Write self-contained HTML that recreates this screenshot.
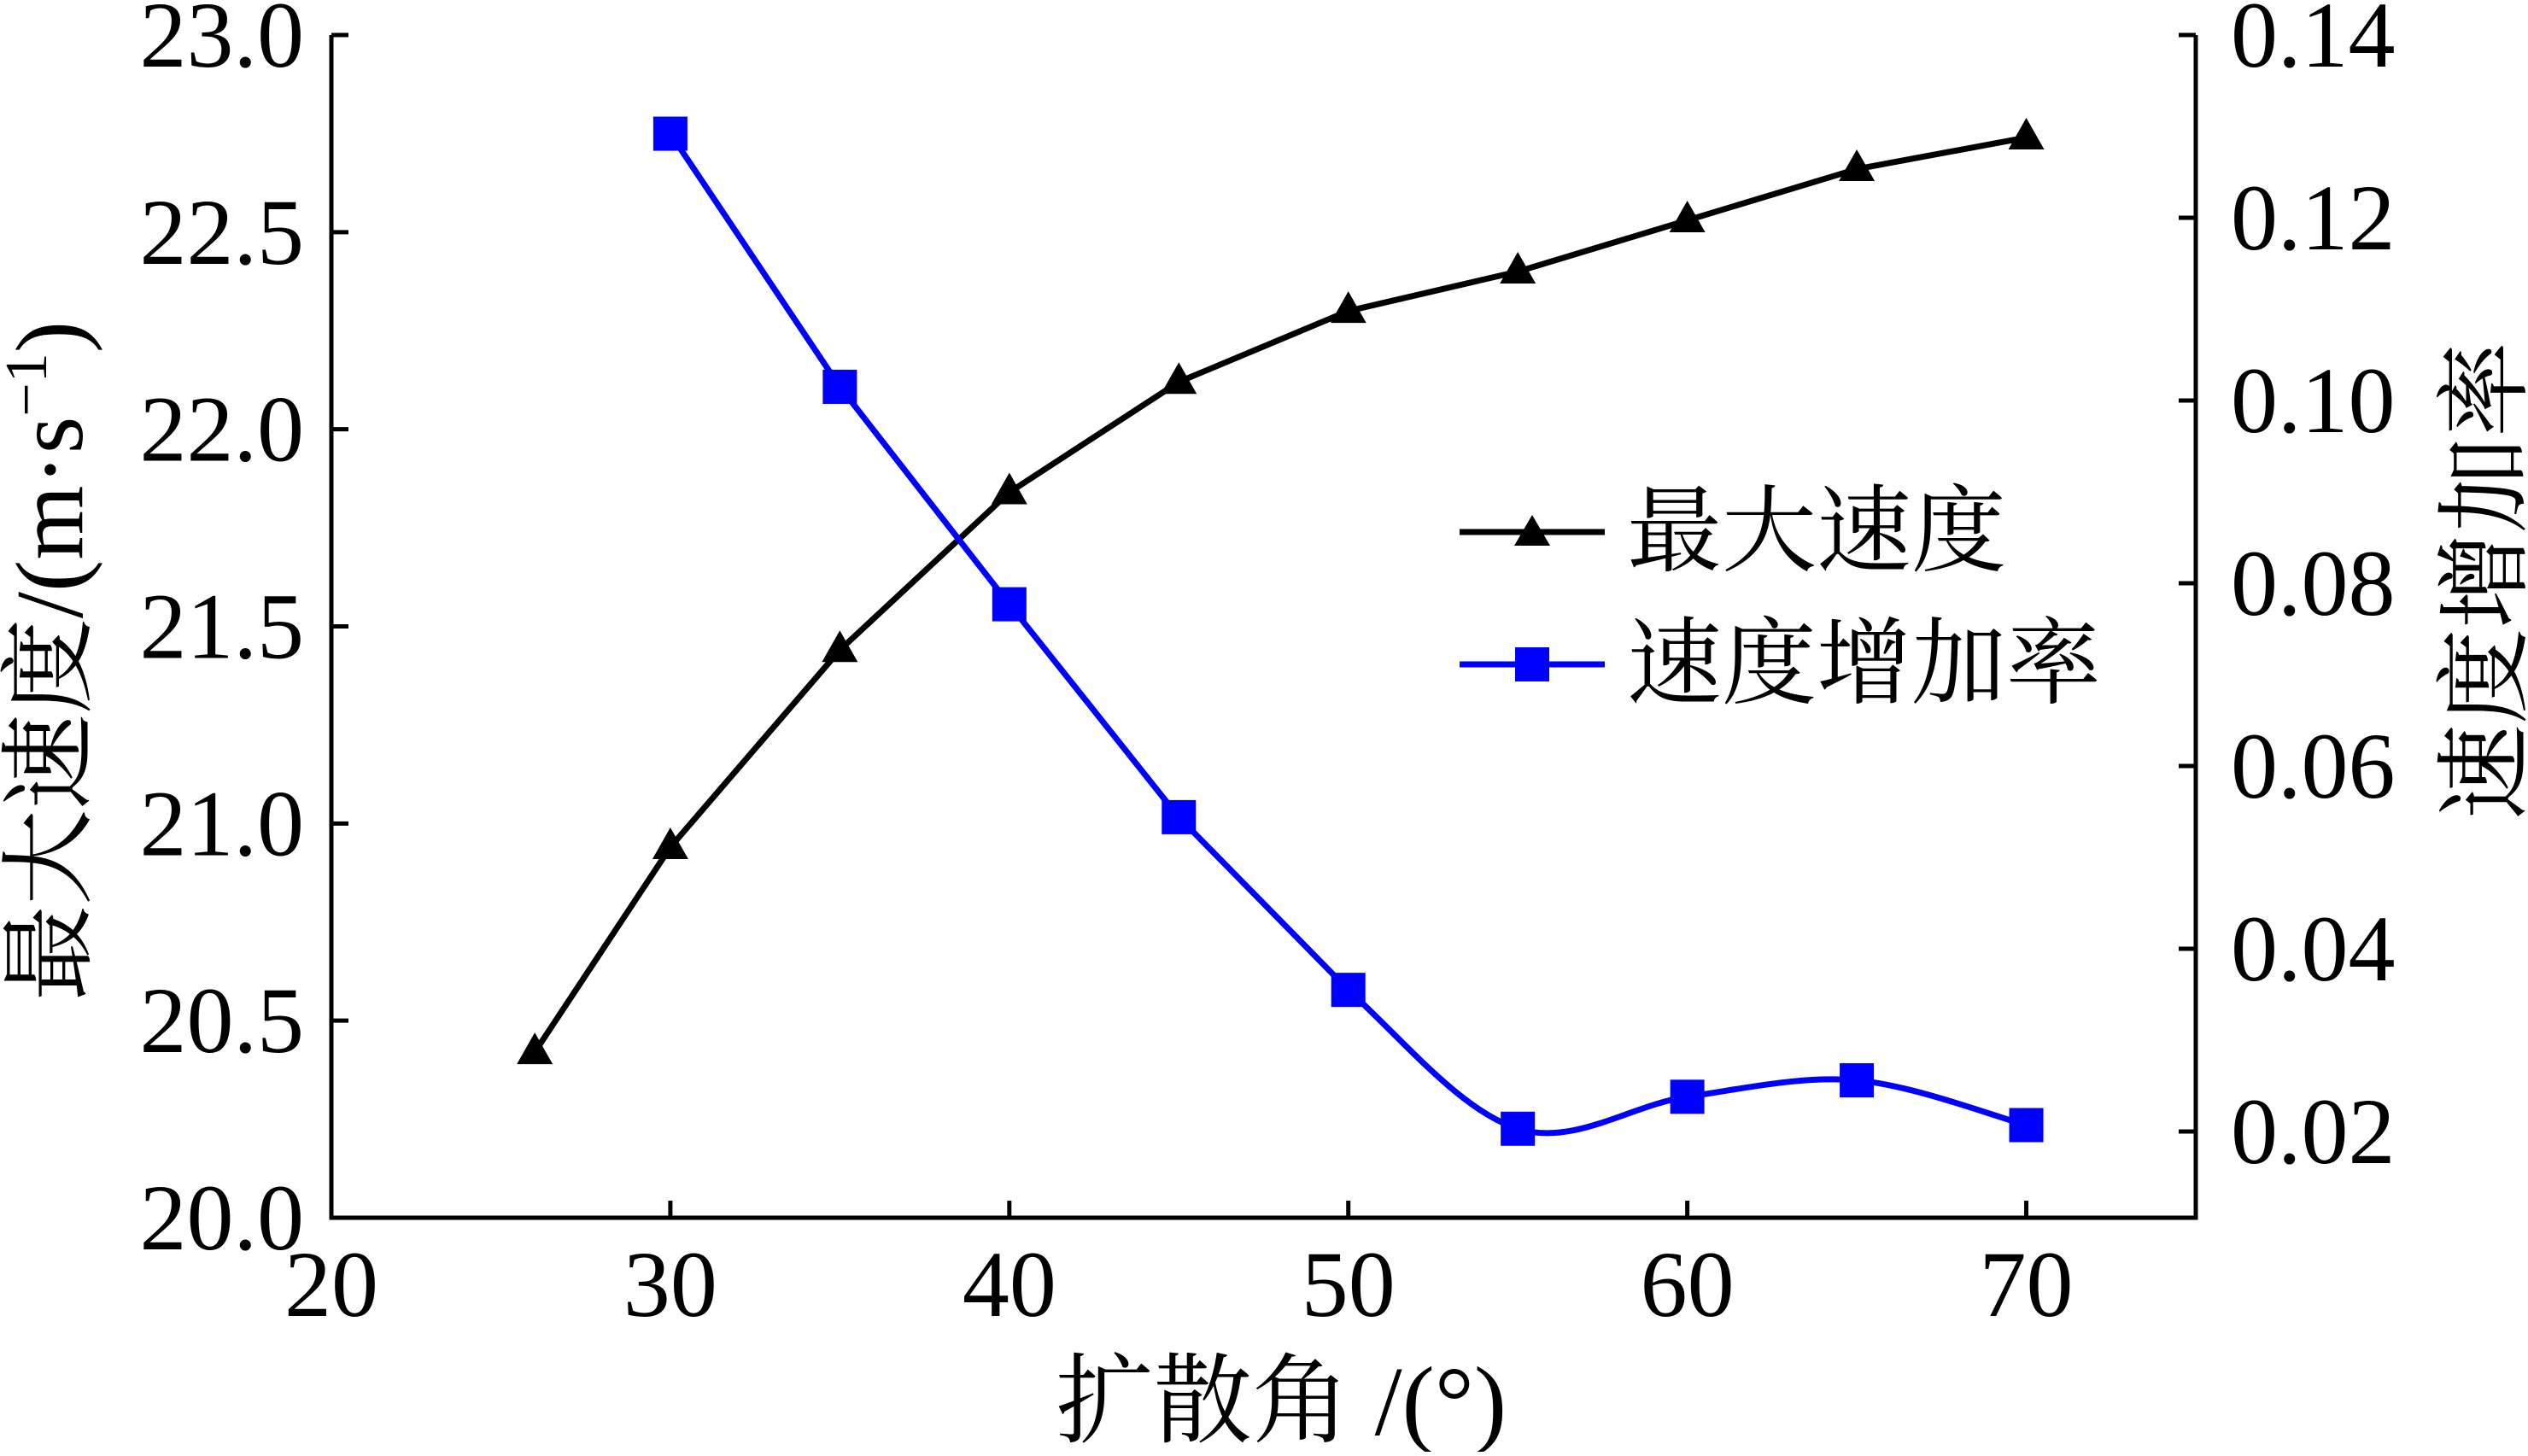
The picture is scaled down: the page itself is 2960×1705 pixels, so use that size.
<!DOCTYPE html>
<html><head><meta charset="utf-8"><style>
html,body{margin:0;padding:0;background:#fff;}
svg text{font-family:"Liberation Serif","Noto Serif CJK SC",serif;fill:#000;}
</style></head><body>
<svg id="chart" width="2960" height="1700" viewBox="0 0 2960 1700" xmlns="http://www.w3.org/2000/svg">
<g id="axes"></g>
<g id="series"></g>
<g id="legend">
  <line x1="1709" y1="623" x2="1879" y2="623" stroke="#000" stroke-width="7"/>
  <polygon points="1794,603 1773,639 1815,639" fill="#000"/>
  <text x="1905" y="660" font-size="111">最大速度</text>
  <line x1="1709" y1="778" x2="1879" y2="778" stroke="#0000ff" stroke-width="7"/>
  <rect x="1774" y="758" width="40" height="40" fill="#0000ff"/>
  <text x="1905" y="815" font-size="111">速度增加率</text>
</g>
<text x="1500" y="1680" font-size="115" text-anchor="middle">扩散角 /(°)</text>
<text transform="translate(96,774) rotate(-90)" font-size="112" text-anchor="middle">最大速度/(m·s<tspan dy="-42" font-size="70">−1</tspan><tspan dy="42">)</tspan></text>
<text transform="translate(2948,680) rotate(-90)" font-size="112" text-anchor="middle">速度增加率</text>
</svg>
<script>
const xs = [26,30,35,40,45,50,55,60,65,70];
const maxSpeed = [20.42,20.94,21.44,21.84,22.12,22.30,22.40,22.53,22.66,22.74];
const rateX = [30,35,40,45,50,55,60,65,70];
const rate = [0.1292,0.1015,0.0777,0.0544,0.0355,0.0203,0.0238,0.0256,0.0207];
const xTicks = [20,30,40,50,60,70];
const yLeftTicks = ["20.0","20.5","21.0","21.5","22.0","22.5","23.0"];
const yRightTicks = ["0.02","0.04","0.06","0.08","0.10","0.12","0.14"];

const NS="http://www.w3.org/2000/svg";
const L=388,R=2571,T=41,B=1426;
const X=v=>L+(v-20)/(75-20)*(R-L);
const YL=v=>B-(v-20)/(23-20)*(B-T);
const rMin=0.02-(1426-1325)/1284*0.12;
const YR=v=>B-(v-rMin)/(0.14-rMin)*(B-T);
function mk(tag,attrs,parent){const e=document.createElementNS(NS,tag);for(const k in attrs)e.setAttribute(k,attrs[k]);parent.appendChild(e);return e;}
const ax=document.getElementById('axes');
let e=mk('path',{d:`M${L},${T} V${B} H${R} V${T}`,fill:'none',stroke:'#000','stroke-width':5},ax);


xTicks.forEach(t=>{
  const x=X(t);
  let l=mk('line',{x1:x,y1:B,x2:x,y2:B-20,stroke:'#000','stroke-width':5},ax);
  
  
  let tx=mk('text',{x:x,y:1541,'font-size':110,'text-anchor':'middle'},ax);tx.textContent=t;
  
  
});
yLeftTicks.forEach(t=>{
  const y=YL(parseFloat(t));
  let l=mk('line',{x1:L,y1:y,x2:L+20,y2:y,stroke:'#000','stroke-width':5},ax);
  
  
  let tx=mk('text',{x:356,y:y+37,'font-size':110,'text-anchor':'end'},ax);tx.textContent=t;
  
  
});
yRightTicks.forEach(t=>{
  const y=YR(parseFloat(t));
  let l=mk('line',{x1:R,y1:y,x2:R-20,y2:y,stroke:'#000','stroke-width':5},ax);
  
  
  let tx=mk('text',{x:2612,y:y+37,'font-size':110},ax);tx.textContent=t;
  
  
});
const sg=document.getElementById('series');
let pts=xs.map((v,i)=>[X(v),YL(maxSpeed[i])]);
let p=mk('polyline',{points:pts.map(q=>q.join(',')).join(' '),fill:'none',stroke:'#000','stroke-width':7,'stroke-linejoin':'round'},sg);


let rp=rateX.map((v,i)=>[X(v),YR(rate[i])]);
let d=`M${rp[0][0]},${rp[0][1]}`;
for(let i=0;i<rp.length-1;i++){
  if(i<4){d+=` L${rp[i+1][0]},${rp[i+1][1]}`;continue;}
  const p0=rp[Math.max(i-1,0)],p1=rp[i],p2=rp[i+1],p3=rp[Math.min(i+2,rp.length-1)];
  const c1=[p1[0]+(p2[0]-p0[0])/6,p1[1]+(p2[1]-p0[1])/6];
  const c2=[p2[0]-(p3[0]-p1[0])/6,p2[1]-(p3[1]-p1[1])/6];
  d+=` C${c1[0]},${c1[1]} ${c2[0]},${c2[1]} ${p2[0]},${p2[1]}`;
}
p=mk('path',{d:d,fill:'none',stroke:'#0000ff','stroke-width':7},sg);


pts.forEach(q=>{
  let m=mk('polygon',{points:`${q[0]},${q[1]-23} ${q[0]-21},${q[1]+14} ${q[0]+21},${q[1]+14}`,fill:'#000'},sg);
  
  
});
rp.forEach(q=>{
  let m=mk('rect',{x:q[0]-20,y:q[1]-20,width:40,height:40,fill:'#0000ff'},sg);
  
  
});
</script>
</body></html>
